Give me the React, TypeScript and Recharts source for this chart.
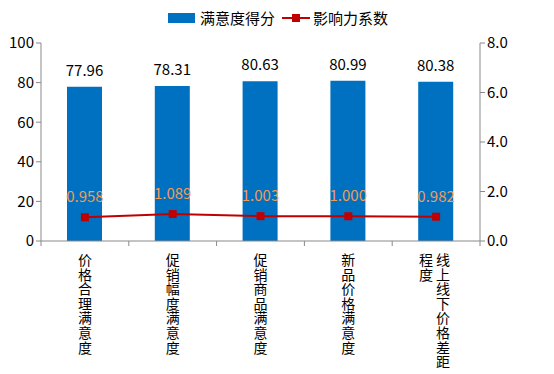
import React from 'react';
import { ComposedChart, Bar, Line, XAxis, YAxis, LabelList } from 'recharts';

const categories = ['价格合理满意度', '促销幅度满意度', '促销商品满意度', '新品价格满意度', '线上线下价格差距程度'];
const scores = [77.96, 78.31, 80.63, 80.99, 80.38];
const coefficients = [0.958, 1.089, 1.003, 1.0, 0.982];
const leftTicks = [0, 20, 40, 60, 80, 100];
const rightTicks = [0, 2, 4, 6, 8];

const data = categories.map((name, i) => ({ name, score: scores[i], coef: coefficients[i] }));

const FONT = '"Noto Sans CJK SC", "Microsoft YaHei", sans-serif';
const AXIS = '#898989';
const BAND = (480 - 41) / categories.length;
const MAX_PER_COL = 8;

const XTick = (props: any) => {
  const { x, y, payload, index } = props;
  const text: string = payload.value;
  const cols: string[] = [];
  for (let i = 0; i < text.length; i += MAX_PER_COL) cols.push(text.slice(i, i + MAX_PER_COL));
  const spacing = 17;
  const n = cols.length;
  const ty = y - 8;
  return (
    <g>
      <line x1={x - BAND / 2} x2={x - BAND / 2} y1={ty} y2={ty + 5} stroke={AXIS} />
      {index === categories.length - 1 && (
        <line x1={x + BAND / 2} x2={x + BAND / 2} y1={ty} y2={ty + 5} stroke={AXIS} />
      )}
      {cols.map((col, c) => {
        const cx = x - 1.5 + ((n - 1) / 2 - c) * spacing + (n === 1 ? 1.5 : 0);
        return col.split('').map((ch, k) => (
          <text
            key={c + '-' + k}
            x={cx}
            y={ty + 24 + k * 14.6}
            textAnchor="middle"
            fontSize={14}
            fontFamily={FONT}
            fill="#000"
          >
            {ch}
          </text>
        ));
      })}
    </g>
  );
};

const SquareDot = (props: any) => {
  const { cx, cy } = props;
  if (cx == null || cy == null) return null;
  return <rect x={cx - 4} y={cy - 4} width={8} height={8} fill="#C00000" />;
};

export default function App() {
  return (
    <div style={{ position: 'absolute', left: 0, top: 0, width: 554, height: 374, background: '#fff' }}>
      <ComposedChart
        width={554}
        height={374}
        data={data}
        margin={{ top: 43, right: 0, bottom: 0, left: 0 }}
      >
        <XAxis
          dataKey="name"
          height={133}
          interval={0}
          stroke={AXIS}
          tickLine={false}
          tick={<XTick />}
        />
        <YAxis
          yAxisId="left"
          width={41}
          domain={[0, 100]}
          ticks={leftTicks}
          stroke={AXIS}
          tickSize={5}
          tick={{ fill: '#000', fontSize: 15, fontFamily: FONT }}
        />
        <YAxis
          yAxisId="right"
          orientation="right"
          width={74}
          domain={[0, 8]}
          ticks={rightTicks}
          stroke={AXIS}
          tickSize={5}
          tickFormatter={(v: number) => v.toFixed(1)}
          tick={{ fill: '#000', fontSize: 15, fontFamily: FONT }}
        />
        <Bar yAxisId="left" dataKey="score" fill="#0070C0" barSize={35} isAnimationActive={false}>
          <LabelList
            dataKey="score"
            position="top"
            offset={11}
            formatter={(v: number) => v.toFixed(2)}
            style={{ fill: '#000', fontSize: 15, fontFamily: FONT }}
          />
        </Bar>
        <Line
          yAxisId="right"
          dataKey="coef"
          stroke="#C00000"
          strokeWidth={2}
          dot={<SquareDot />}
          activeDot={false}
          isAnimationActive={false}
        >
          <LabelList
            dataKey="coef"
            position="top"
            offset={15}
            formatter={(v: number) => v.toFixed(3)}
            style={{ fill: '#F39C52', fontSize: 15, fontFamily: FONT }}
          />
        </Line>
      </ComposedChart>
      <svg width={554} height={40} style={{ position: 'absolute', left: 0, top: 0 }}>
        <rect x={168} y={13} width={27} height={10} fill="#0070C0" />
        <text x={200} y={24} fontSize={15} fontFamily={FONT} fill="#000">满意度得分</text>
        <line x1={282} x2={310} y1={18} y2={18} stroke="#C00000" strokeWidth={2} />
        <rect x={292} y={14} width={8} height={8} fill="#C00000" />
        <text x={313} y={24} fontSize={15} fontFamily={FONT} fill="#000">影响力系数</text>
      </svg>
    </div>
  );
}
